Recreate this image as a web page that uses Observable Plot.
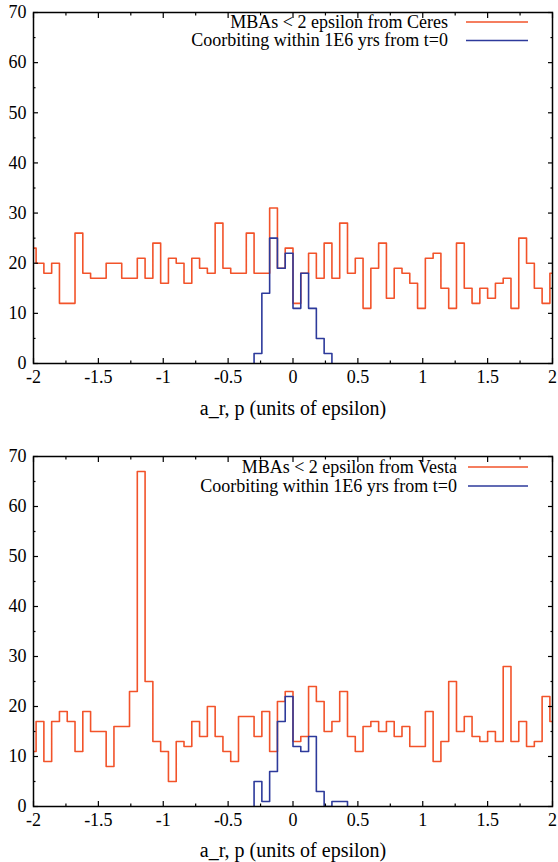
<!DOCTYPE html>
<html><head><meta charset="utf-8">
<script src="https://cdn.jsdelivr.net/npm/d3@7"></script>
<script src="https://cdn.jsdelivr.net/npm/@observablehq/plot@0.6"></script>
<style>body{margin:0;background:#fff;} svg{display:block;}</style>
</head><body><div id="chart"></div>
<script>
// ---- data ----
const binWidth = 0.06;
const binLeftEdges = d3.range(-34, 34).map(k => +(k * binWidth).toFixed(2));

const ceresMBAs = [23,20,18,20,12,12,26,18,17,17,20,20,17,17,21,17,24,
                   16,21,20,16,21,19,18,28,19,18,18,26,18,18,31,19,23,
                   12,18,22,17,24,17,28,18,21,11,19,24,13,19,18,16,11,
                   21,22,15,11,24,15,12,15,13,16,17,11,25,20,15,12,18];
const ceresCoorb = [0,0,0,0,0,0,0,0,0,0,0,0,0,0,0,0,0,
                    0,0,0,0,0,0,0,0,0,0,0,0,2,14,25,19,22,
                    11,18,11,5,2,0,0,0,0,0,0,0,0,0,0,0,0,
                    0,0,0,0,0,0,0,0,0,0,0,0,0,0,0,0,0];
const vestaMBAs = [11,17,9,17,19,17,11,19,15,15,8,16,16,23,67,25,13,
                   11,5,13,12,17,14,20,14,11,9,18,18,14,19,11,21,23,
                   13,14,24,21,15,17,23,14,11,16,17,15,17,14,16,12,12,
                   19,9,13,25,15,18,14,13,15,13,28,13,17,12,13,22,17];
const vestaCoorb = [0,0,0,0,0,0,0,0,0,0,0,0,0,0,0,0,0,
                    0,0,0,0,0,0,0,0,0,0,0,0,5,1,7,17,22,
                    12,11,14,3,0,1,1,0,0,0,0,0,0,0,0,0,0,
                    0,0,0,0,0,0,0,0,0,0,0,0,0,0,0,0,0];

const xMajorTicks = [-2,-1.5,-1,-0.5,0,0.5,1,1.5,2];
const xTickLabels = ["-2","-1.5","-1","-0.5","0","0.5","1","1.5","2"];
const xMinorTicks = [-1.75,-1.25,-0.75,-0.25,0.25,0.75,1.25,1.75];
const yMajorTicks = [0,10,20,30,40,50,60,70];
const yTickLabels = ["0","10","20","30","40","50","60","70"];
const yMinorTicks = [5,15,25,35,45,55,65];
const xAxisLabel = "a_r, p (units of epsilon)";
const legendCeres = ["MBAs < 2 epsilon from Ceres", "Coorbiting within 1E6 yrs from t=0"];
const legendVesta = ["MBAs < 2 epsilon from Vesta", "Coorbiting within 1E6 yrs from t=0"];

const ORANGE = "#f2532a";
const BLUE = "#2d3a9b";
const FONT = "'Liberation Serif', 'Times New Roman', serif";

function stepPoints(values, trim) {
  let a = 0, b = values.length - 1;
  const pts = [];
  if (trim) {
    while (a < b && values[a] === 0) a++;
    while (b > a && values[b] === 0) b--;
    pts.push({x: binLeftEdges[a], y: 0});
    for (let i = a; i <= b; i++) pts.push({x: binLeftEdges[i], y: values[i]});
    pts.push({x: +(binLeftEdges[b] + binWidth).toFixed(2), y: 0});
  } else {
    for (let i = a; i <= b; i++) pts.push({x: binLeftEdges[i], y: values[i]});
    pts.push({x: +(binLeftEdges[b] + binWidth).toFixed(2), y: values[b]});
  }
  return pts;
}

function panel({mbas, coorb, legend, height, marginTop, marginBottom, labelDy, legendDy, legendTextEnd, legendLine}) {
  const plot = Plot.plot({
    width: 558, height, marginLeft: 33, marginRight: 6, marginTop, marginBottom,
    style: {fontFamily: FONT, fontSize: "18px", color: "black", background: "white", overflow: "visible"},
    x: {domain: [-2, 2]},
    y: {domain: [0, 70]},
    marks: [
      Plot.line(stepPoints(mbas, false), {x: "x", y: "y", curve: "step-after", stroke: ORANGE, strokeWidth: 1.6, clip: true}),
      Plot.line(stepPoints(coorb, true), {x: "x", y: "y", curve: "step-after", stroke: BLUE, strokeWidth: 1.6, clip: true}),
      // labels
      Plot.axisX({ticks: xMajorTicks, tickSize: 0, tickPadding: 7, tickFormat: d => xTickLabels[xMajorTicks.indexOf(d)], label: null, fontSize: 18}),
      Plot.axisY({ticks: yMajorTicks, tickSize: 0, tickPadding: 7, tickFormat: d => yTickLabels[yMajorTicks.indexOf(d)], label: null, fontSize: 18}),
      // inward ticks (all four sides)
      Plot.axisX({anchor: "bottom", ticks: xMajorTicks, tickSize: -5, strokeWidth: 1.2, tickFormat: () => "", label: null}),
      Plot.axisX({anchor: "bottom", ticks: xMinorTicks, tickSize: -2.5, strokeWidth: 1.2, tickFormat: () => "", label: null}),
      Plot.axisX({anchor: "top", ticks: xMajorTicks, tickSize: -5, strokeWidth: 1.2, tickFormat: () => "", label: null}),
      Plot.axisX({anchor: "top", ticks: xMinorTicks, tickSize: -2.5, strokeWidth: 1.2, tickFormat: () => "", label: null}),
      Plot.axisY({anchor: "left", ticks: yMajorTicks, tickSize: -5, strokeWidth: 1.2, tickFormat: () => "", label: null}),
      Plot.axisY({anchor: "left", ticks: yMinorTicks, tickSize: -2.5, strokeWidth: 1.2, tickFormat: () => "", label: null}),
      Plot.axisY({anchor: "right", ticks: yMajorTicks, tickSize: -5, strokeWidth: 1.2, tickFormat: () => "", label: null}),
      Plot.axisY({anchor: "right", ticks: yMinorTicks, tickSize: -2.5, strokeWidth: 1.2, tickFormat: () => "", label: null}),
      Plot.frame({stroke: "black", strokeWidth: 1.5}),
      Plot.text([xAxisLabel], {frameAnchor: "bottom", dy: labelDy, lineAnchor: "middle", fontSize: 20, fill: "black"})
    ]
  });
  const svg = d3.select(plot);
  const g = svg.append("g").attr("font-family", FONT).attr("font-size", 18);
  const colors = [ORANGE, BLUE];
  legend.forEach((txt, j) => {
    const y = marginTop + legendDy[j];
    g.append("text").attr("x", legendTextEnd).attr("y", y).attr("dy", "0.32em")
      .attr("text-anchor", "end").attr("fill", "black").text(txt);
    g.append("line").attr("x1", legendLine[0]).attr("x2", legendLine[1])
      .attr("y1", y).attr("y2", y).attr("stroke", colors[j]).attr("stroke-width", 1.6);
  });
  return plot;
}

const chart = document.getElementById("chart");
chart.append(panel({mbas: ceresMBAs, coorb: ceresCoorb, legend: legendCeres,
  height: 431, marginTop: 12, marginBottom: 68, labelDy: 45,
  legendDy: [10, 28.5], legendTextEnd: 448, legendLine: [466, 528]}));
chart.append(panel({mbas: vestaMBAs, coorb: vestaCoorb, legend: legendVesta,
  height: 431, marginTop: 25, marginBottom: 56, labelDy: 44,
  legendDy: [11, 30], legendTextEnd: 457, legendLine: [468, 528]}));
</script>
</body></html>
